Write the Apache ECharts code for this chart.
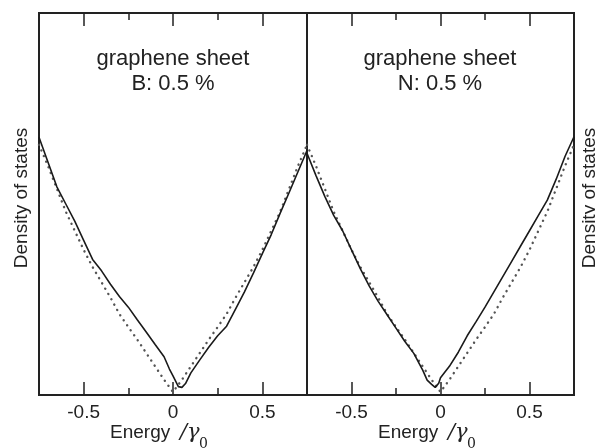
<!DOCTYPE html>
<html>
<head>
<meta charset="utf-8">
<script src="https://cdn.jsdelivr.net/npm/echarts@6/dist/echarts.min.js"></script>
<style>
html,body{margin:0;padding:0;background:#fff;}
#chart{width:595px;height:448px;}
</style>
</head>
<body>
<div id="chart"></div>
<script>
// ---- data ----
const majorTicks = [-0.5, 0, 0.5];
const minorTicks = [-0.25, 0.25];

// Left panel: B 0.5 % doped graphene sheet (solid)
const energyB = [-0.75,-0.70,-0.65,-0.60,-0.55,-0.50,-0.45,-0.40,-0.35,-0.30,-0.25,-0.20,-0.15,-0.10,-0.05,-0.02,0.00,0.03,0.05,0.07,0.10,0.15,0.20,0.25,0.30,0.35,0.40,0.45,0.50,0.55,0.60,0.65,0.70,0.75];
const dosB    = [0.675,0.610,0.545,0.500,0.455,0.405,0.355,0.325,0.290,0.258,0.230,0.197,0.165,0.132,0.100,0.068,0.050,0.022,0.020,0.030,0.058,0.092,0.125,0.155,0.180,0.225,0.270,0.319,0.370,0.420,0.476,0.530,0.585,0.640];

// Right panel: N 0.5 % doped graphene sheet (solid)
const energyN = [-0.75,-0.70,-0.65,-0.60,-0.55,-0.50,-0.45,-0.40,-0.35,-0.30,-0.25,-0.20,-0.15,-0.10,-0.075,-0.05,-0.03,-0.01,0.00,0.05,0.10,0.15,0.20,0.25,0.30,0.35,0.40,0.45,0.50,0.55,0.60,0.65,0.70,0.75];
const dosN    = [0.633,0.575,0.520,0.470,0.430,0.380,0.330,0.285,0.245,0.210,0.175,0.140,0.109,0.065,0.039,0.028,0.020,0.031,0.045,0.075,0.112,0.155,0.192,0.230,0.270,0.310,0.350,0.390,0.430,0.470,0.510,0.565,0.625,0.676];

// Pristine graphene sheet (dotted), both panels
const energyPristine = [-0.75,-0.70,-0.65,-0.60,-0.55,-0.50,-0.45,-0.40,-0.35,-0.30,-0.25,-0.20,-0.15,-0.10,-0.05,0.00,0.05,0.10,0.15,0.20,0.25,0.30,0.35,0.40,0.45,0.50,0.55,0.60,0.65,0.70,0.75];
const dosPristine    = [0.655,0.600,0.540,0.480,0.430,0.380,0.335,0.295,0.255,0.212,0.178,0.145,0.110,0.075,0.040,0.008,0.040,0.075,0.110,0.145,0.178,0.212,0.255,0.295,0.335,0.380,0.430,0.480,0.540,0.600,0.655];

const panelTitles = ['graphene sheet', 'graphene sheet'];
const panelDopants = ['B: 0.5 %', 'N: 0.5 %'];
const xTitle = 'Energy';
const yTitle = 'Density of states';

// ---- build ----
const pairs = (xs, ys) => xs.map((x, i) => [x, ys[i]]);
const ink = '#222';
const font = 'Liberation Sans, Arial, sans-serif';

const grids = [
  {left: 39, top: 13, width: 268, height: 382},
  {left: 307, top: 13, width: 267, height: 382}
].map(g => Object.assign(g, {show: true, borderColor: ink, borderWidth: 2, backgroundColor: 'transparent'}));

function xAxes(gi) {
  const base = {type: 'value', gridIndex: gi, min: -0.75, max: 0.75,
    axisLine: {show: false}, splitLine: {show: false}};
  return [
    Object.assign({}, base, {position: 'bottom',
      axisTick: {show: true, inside: true, length: 13, customValues: majorTicks, lineStyle: {color: ink, width: 1.5}},
      axisLabel: {show: true, customValues: majorTicks, margin: 8, color: ink, fontSize: 19, fontFamily: font}}),
    Object.assign({}, base, {position: 'bottom',
      axisTick: {show: true, inside: true, length: 7, customValues: minorTicks, lineStyle: {color: ink, width: 1.5}},
      axisLabel: {show: false}}),
    Object.assign({}, base, {position: 'top',
      axisTick: {show: true, inside: true, length: 13, customValues: majorTicks, lineStyle: {color: ink, width: 1.5}},
      axisLabel: {show: false}}),
    Object.assign({}, base, {position: 'top',
      axisTick: {show: true, inside: true, length: 7, customValues: minorTicks, lineStyle: {color: ink, width: 1.5}},
      axisLabel: {show: false}})
  ];
}

const yAxes = [0, 1].map(gi => ({type: 'value', gridIndex: gi, min: 0, max: 1,
  axisLine: {show: false}, axisTick: {show: false}, axisLabel: {show: false}, splitLine: {show: false}}));

function solid(xi, yi, data) {
  return {type: 'line', xAxisIndex: xi, yAxisIndex: yi, data: data, showSymbol: false, symbol: 'none',
    lineStyle: {color: '#1a1a1a', width: 1.6}, z: 3, clip: true};
}
function dotted(xi, yi, data) {
  return {type: 'line', xAxisIndex: xi, yAxisIndex: yi, data: data, showSymbol: false, symbol: 'none',
    lineStyle: {color: '#555', width: 2.4, type: [0.1, 6], cap: 'round'}, z: 2, clip: true};
}

function txt(x, y, text, size, extra) {
  return Object.assign({type: 'text', x: x, y: y, z: 10,
    style: Object.assign({text: text, fill: ink, font: size + 'px ' + font, align: 'center', verticalAlign: 'middle'}, extra || {})});
}

const graphics = [
  txt(173, 59, panelTitles[0], 22), txt(173, 84, panelDopants[0], 22),
  txt(440, 59, panelTitles[1], 22), txt(440, 84, panelDopants[1], 22),
  Object.assign(txt(22, 198, yTitle, 19), {rotation: Math.PI / 2}),
  Object.assign(txt(590, 198, yTitle, 19), {rotation: Math.PI / 2}),
  txt(110, 433, xTitle, 19, {align: 'left'}),
  txt(180, 433, '/γ', 21, {align: 'left', font: 'italic 21px DejaVu Serif, serif'}),
  txt(199, 444, '0', 14, {align: 'left', font: '14px DejaVu Serif, serif'}),
  txt(378, 433, xTitle, 19, {align: 'left'}),
  txt(448, 433, '/γ', 21, {align: 'left', font: 'italic 21px DejaVu Serif, serif'}),
  txt(467, 444, '0', 14, {align: 'left', font: '14px DejaVu Serif, serif'})
];

const chart = echarts.init(document.getElementById('chart'), null, {renderer: 'canvas'});
chart.setOption({
  animation: false,
  backgroundColor: '#fff',
  grid: grids,
  xAxis: xAxes(0).concat(xAxes(1)),
  yAxis: yAxes,
  series: [
    dotted(0, 0, pairs(energyPristine, dosPristine)),
    solid(0, 0, pairs(energyB, dosB)),
    dotted(4, 1, pairs(energyPristine, dosPristine)),
    solid(4, 1, pairs(energyN, dosN))
  ],
  graphic: graphics
});
</script>
</body>
</html>
